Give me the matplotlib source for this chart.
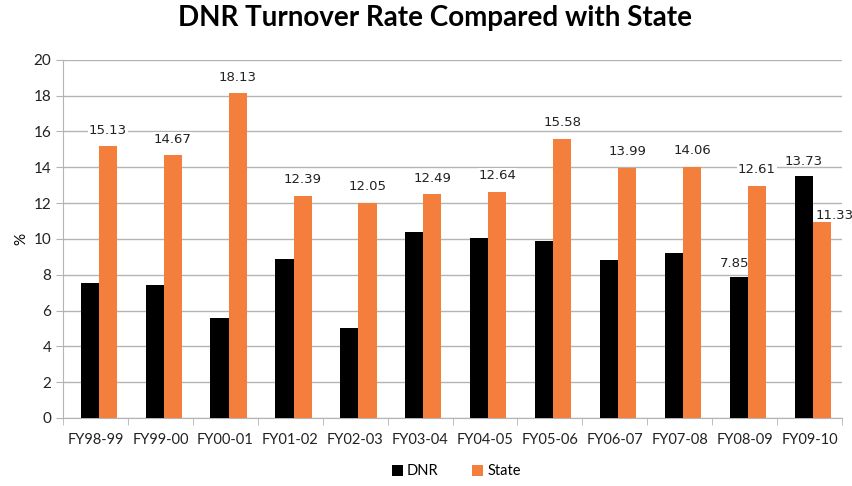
import matplotlib
matplotlib.use("Agg")
import matplotlib.pyplot as plt
import numpy as np

years = ["FY98-99", "FY99-00", "FY00-01", "FY01-02", "FY02-03", "FY03-04",
         "FY04-05", "FY05-06", "FY06-07", "FY07-08", "FY08-09", "FY09-10"]
dnr = [7.52, 7.42, 5.59, 8.86, 5.00, 10.37, 10.03, 9.87, 8.80, 9.23, 7.85, 13.52]
state = [15.16, 14.66, 18.14, 12.40, 12.03, 12.49, 12.64, 15.59, 13.98, 14.02, 12.96, 10.93]
# data labels as printed on the chart
state_labels = ["15.13", "14.67", "18.13", "12.39", "12.05", "12.49",
                "12.64", "15.58", "13.99", "14.06", "12.61", "11.33"]
dnr_labels = {10: "7.85", 11: "13.73"}

DNR_COLOR = "#000000"
STATE_COLOR = "#F47E3B"
GRID = "#B4B4B4"

fig = plt.figure(figsize=(8.53, 4.86), dpi=100)
ax = fig.add_axes([0.074, 0.140, 0.913, 0.737])

x = np.arange(len(years))
w = 0.28
ax.bar(x - w / 2 + 0.05, dnr, w, color=DNR_COLOR, label="DNR", zorder=3)
ax.bar(x + w / 2 + 0.05, state, w, color=STATE_COLOR, label="State", zorder=3)

lab_font = dict(fontsize=9.5, family="DejaVu Sans", color="#222222")
for i, (v, s) in enumerate(zip(state, state_labels)):
    if i == 11:
        # last label sits to the right of its bar
        ax.annotate(s, (x[i] + w / 2 + 0.05, v), xytext=(9, 5),
                    textcoords="offset points", ha="center", va="center",
                    zorder=4, **lab_font)
    else:
        ax.annotate(s, (x[i] + w / 2 + 0.05, v), xytext=(0, 11.5),
                    textcoords="offset points", ha="center", va="center",
                    bbox=dict(facecolor="white", edgecolor="none", pad=0.5),
                    zorder=4, **lab_font)
for i, s in dnr_labels.items():
    dx = -3 if i == 10 else 0
    ax.annotate(s, (x[i] - w / 2 + 0.05, dnr[i]), xytext=(dx, 10),
                textcoords="offset points", ha="center", va="center",
                zorder=4, **lab_font)

ax.set_xlim(-0.5, len(years) - 0.5)
ax.set_ylim(0, 20)
ax.set_yticks(np.arange(0, 21, 2))
ax.yaxis.grid(True, color=GRID, linewidth=1, zorder=0)
ax.set_axisbelow(True)

ax.set_xticks(x)
ax.set_xticklabels(years, fontsize=10.5, family="Lato", color="#222222")
ax.set_xticks(np.arange(-0.5, len(years), 1), minor=True)
ax.tick_params(axis="x", which="major", length=0, pad=11)
ax.tick_params(axis="x", which="minor", length=5, color=GRID)
ax.tick_params(axis="y", length=5, color=GRID, labelsize=11, labelcolor="#222222")
for lbl in ax.get_yticklabels():
    lbl.set_family("Lato")

for side in ["top", "right"]:
    ax.spines[side].set_visible(False)
ax.spines["left"].set_color(GRID)
ax.spines["bottom"].set_color(GRID)

ax.set_ylabel("%", fontsize=11, family="Lato", labelpad=4)

fig.suptitle("DNR Turnover Rate Compared with State", x=0.51, y=0.99,
             fontsize=20, fontweight="bold", family="Lato")

fig.legend(loc="center", bbox_to_anchor=(0.535, 0.03), ncol=2, frameon=False,
           prop=dict(family="Lato", size=10.5), handlelength=0.75, handleheight=0.75,
           columnspacing=2.3, handletextpad=0.3)

fig.savefig("out.png", dpi=100, facecolor="white")
